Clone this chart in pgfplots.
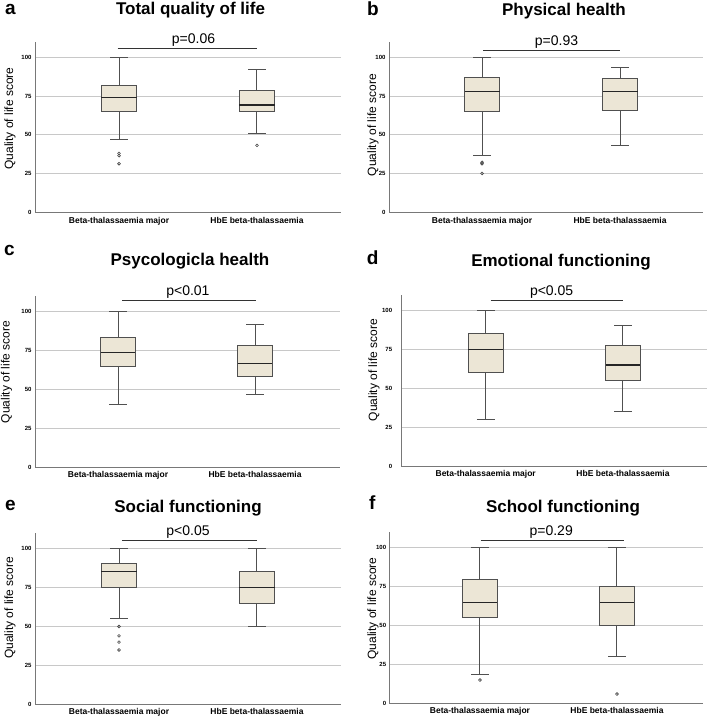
\documentclass[border=0pt]{standalone}
\usepackage{fontspec}
\setmainfont{Liberation Sans}
\usepackage{pgfplots}
\pgfplotsset{compat=1.18}
\usepgfplotslibrary{statistics}
\definecolor{boxfill}{RGB}{236,230,214}
\definecolor{boxedge}{RGB}{80,80,80}
\definecolor{gridc}{RGB}{200,200,200}
\definecolor{axisc}{RGB}{120,120,120}
\tikzset{pline/.style={draw=black!80, line width=1pt}}
\pgfplotsset{
 qol/.style={
  scale only axis, anchor=south west,
  ymin=0, ymax=110, ytick={0,25,50,75,100},
  /pgf/number format/assume math mode=true,
  xtick={0,1}, xticklabels={Beta-thalassaemia major, HbE beta-thalassaemia},
  ymajorgrids, grid style={draw=gridc, line width=0.8pt},
  axis x line*=bottom, axis y line*=left,
  axis line style={draw=axisc, line width=0.9pt, -},
  major tick length=0pt,
  clip=false,
  xticklabel style={font=\fontsize{8.5}{10}\selectfont\bfseries, yshift=-2pt},
  yticklabel style={font=\fontsize{6}{7}\selectfont\bfseries},
  boxplot/draw direction=y,
  boxplot/box extend=0.254,
  boxplot/whisker extend=0.13,
  boxplot/every box/.style={draw=boxedge, fill=boxfill, line width=1pt},
  boxplot/every whisker/.style={draw=boxedge, line width=1pt},
  boxplot/every median/.style={draw=black!85, line width=1.2pt},
 },
 lowrow/.style={xticklabel style={yshift=1.5pt}},
 bx/.style={draw=boxedge, line width=1pt, mark=o, mark size=1.4pt,
   mark options={draw=black!75, line width=0.6pt, fill=none}},
}
\newcommand{\pfont}{\fontsize{14}{16}\selectfont}
\newcommand{\tfont}{\fontsize{17}{19}\selectfont\bfseries}
\newcommand{\lfont}{\fontsize{19}{21}\selectfont\bfseries}
\newcommand{\yfont}{\fontsize{12}{14}\selectfont}
\begin{document}
\begin{tikzpicture}[x=1pt,y=1pt]
\useasboundingbox (0,0) rectangle (707,716);
% ---------- a
\begin{axis}[qol, at={(35pt,504pt)}, width=306pt, height=169.7pt, xmin=-0.609, xmax=1.609]
\addplot[bx, boxplot prepared={lower whisker=47.3, lower quartile=65.4, median=74.3, upper quartile=82.3, upper whisker=100, draw position=0}]
 table[row sep=\\, y index=0] {y\\ 38\\ 36.5\\ 31.3\\};
\addplot[bx, boxplot prepared={lower whisker=51, lower quartile=65, median=69.3, upper quartile=78.8, upper whisker=92.4, draw position=1}]
 table[row sep=\\, y index=0] {y\\ 43.2\\};
\draw[pline] (axis cs:-0.01,106) -- (axis cs:1.0,106);
\node[anchor=base, font=\pfont] at (axis cs:0.54,109.3) {p=0.06};
\end{axis}
% ---------- b
\begin{axis}[qol, at={(389pt,504pt)}, width=314pt, height=169.7pt, xmin=-0.674, xmax=1.601]
\addplot[bx, boxplot prepared={lower whisker=36.7, lower quartile=65.4, median=78.2, upper quartile=87.5, upper whisker=100, draw position=0}]
 table[row sep=\\, y index=0] {y\\ 32.2\\ 31.3\\ 25\\};
\addplot[bx, boxplot prepared={lower whisker=43.4, lower quartile=65.7, median=78.2, upper quartile=86.6, upper whisker=93.7, draw position=1}]
 coordinates {};
\draw[pline] (axis cs:0.01,105) -- (axis cs:1.0,105);
\node[anchor=base, font=\pfont] at (axis cs:0.54,108.2) {p=0.93};
\end{axis}
% ---------- c
\begin{axis}[qol, lowrow, at={(35pt,248.3pt)}, width=305pt, height=172pt, xmin=-0.606, xmax=1.620]
\addplot[bx, boxplot prepared={lower whisker=40.5, lower quartile=65, median=73.6, upper quartile=83.2, upper whisker=100, draw position=0}]
 coordinates {};
\addplot[bx, boxplot prepared={lower whisker=46.7, lower quartile=58.4, median=66.5, upper quartile=78.3, upper whisker=91.5, draw position=1}]
 coordinates {};
\draw[pline] (axis cs:0.03,107.2) -- (axis cs:1.01,107.2);
\node[anchor=base, font=\pfont] at (axis cs:0.51,110.4) {p<0.01};
\end{axis}
% ---------- d
\begin{axis}[qol, lowrow, at={(401.7pt,249.3pt)}, width=305.3pt, height=172pt, xmin=-0.612, xmax=1.612,
  yticklabel style={xshift=-6pt}]
\addplot[bx, boxplot prepared={lower whisker=30, lower quartile=60, median=75, upper quartile=85, upper whisker=100, draw position=0}]
 coordinates {};
\addplot[bx, boxplot prepared={lower whisker=35, lower quartile=55, median=65, upper quartile=77.5, upper whisker=90, draw position=1}]
 coordinates {};
\draw[pline] (axis cs:0.036,106.4) -- (axis cs:1.0,106.4);
\node[anchor=base, font=\pfont] at (axis cs:0.48,109.8) {p<0.05};
\end{axis}
% ---------- e
\begin{axis}[qol, lowrow, at={(35pt,11.3pt)}, width=306pt, height=172pt, xmin=-0.609, xmax=1.609]
\addplot[bx, boxplot prepared={lower whisker=55, lower quartile=75, median=85, upper quartile=90, upper whisker=100, draw position=0}]
 table[row sep=\\, y index=0] {y\\ 50\\ 44\\ 40\\ 35\\};
\addplot[bx, boxplot prepared={lower whisker=50, lower quartile=65, median=75, upper quartile=85, upper whisker=100, draw position=1}]
 coordinates {};
\draw[pline] (axis cs:0.02,104.7) -- (axis cs:1.0,104.7);
\node[anchor=base, font=\pfont] at (axis cs:0.5,108.3) {p<0.05};
\end{axis}
% ---------- f
\begin{axis}[qol, lowrow, at={(389.7pt,12.3pt)}, width=313.3pt, height=171.4pt, xmin=-0.659, xmax=1.628]
\addplot[bx, boxplot prepared={lower whisker=18.6, lower quartile=55, median=65, upper quartile=80, upper whisker=100, draw position=0}]
 table[row sep=\\, y index=0] {y\\ 15.2\\};
\addplot[bx, boxplot prepared={lower whisker=30, lower quartile=50, median=65, upper quartile=75, upper whisker=100, draw position=1}]
 table[row sep=\\, y index=0] {y\\ 6.2\\};
\draw[pline] (axis cs:0.005,104.5) -- (axis cs:1.05,104.5);
\node[anchor=base, font=\pfont] at (axis cs:0.52,108.2) {p=0.29};
\end{axis}
% ---------- titles, letters, y labels
\node[anchor=base, font=\tfont] at (190.5,701) {Total quality of life};
\node[anchor=base, font=\tfont] at (564,700.3) {Physical health};
\node[anchor=base, font=\tfont] at (190,450) {Psycologicla health};
\node[anchor=base, font=\tfont] at (561,449.3) {Emotional functioning};
\node[anchor=base, font=\tfont] at (188,203.3) {Social functioning};
\node[anchor=base, font=\tfont] at (563,203.3) {School functioning};
\node[anchor=base west, font=\lfont, inner sep=0pt] at (5,701) {a};
\node[anchor=base west, font=\lfont, inner sep=0pt] at (367,700.3) {b};
\node[anchor=base west, font=\lfont, inner sep=0pt] at (4,460) {c};
\node[anchor=base west, font=\lfont, inner sep=0pt] at (366.7,451) {d};
\node[anchor=base west, font=\lfont, inner sep=0pt] at (5,205) {e};
\node[anchor=base west, font=\lfont, inner sep=0pt] at (369,206.7) {f};
\node[rotate=90, font=\yfont] at (10,597.5) {Quality of life score};
\node[rotate=90, font=\yfont] at (373,591) {Quality of life score};
\node[rotate=90, font=\yfont] at (6.5,343.7) {Quality of life score};
\node[rotate=90, font=\yfont] at (374,346) {Quality of life score};
\node[rotate=90, font=\yfont] at (10,108.3) {Quality of life score};
\node[rotate=90, font=\yfont] at (373,107.5) {Quality of life score};
\end{tikzpicture}
\end{document}
